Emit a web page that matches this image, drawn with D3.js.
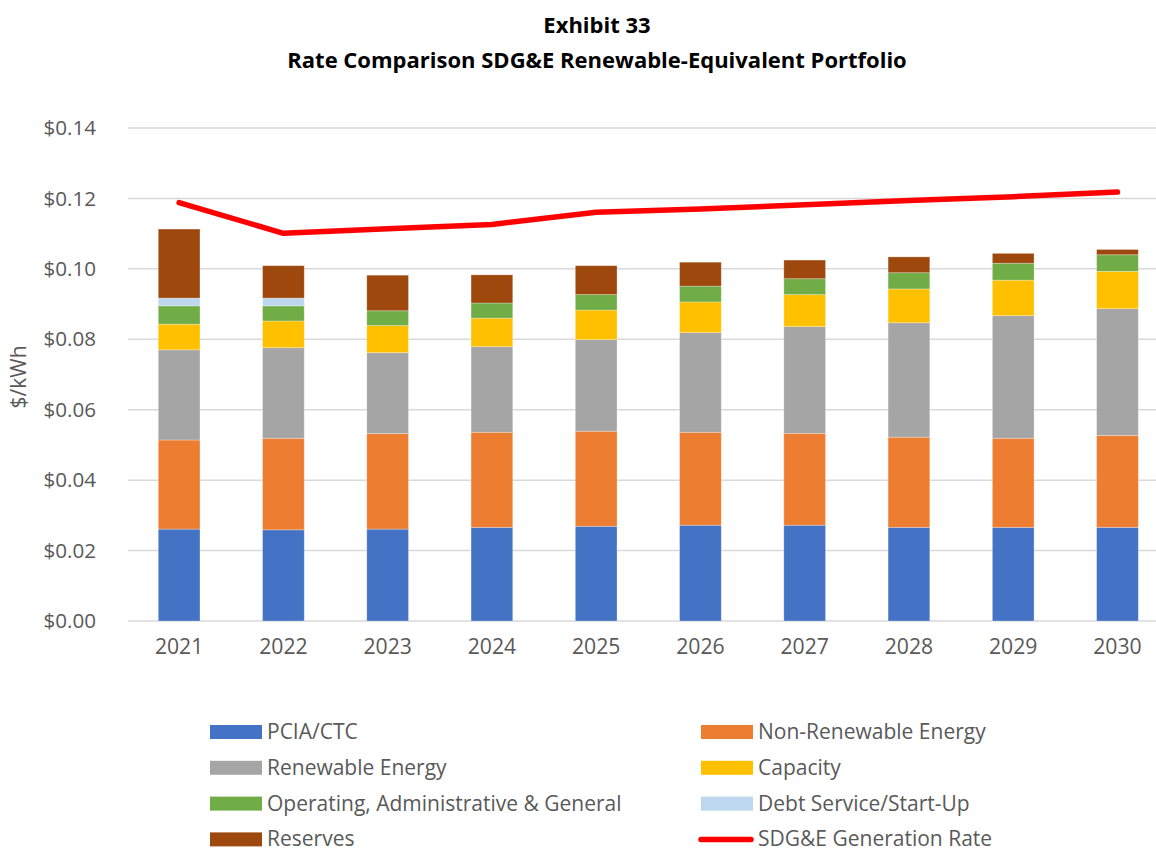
<!DOCTYPE html>
<html>
<head>
<meta charset="utf-8">
<script src="https://cdn.jsdelivr.net/npm/d3@7"></script>
<style>
  body { margin: 0; background: #fff; }
  svg { display: block; font-family: "Open Sans", sans-serif; }
</style>
</head>
<body>
<div class="chart"></div>
<script>
const years = ["2021", "2022", "2023", "2024", "2025", "2026", "2027", "2028", "2029", "2030"];
const seriesNames = [
  "PCIA/CTC",
  "Non-Renewable Energy",
  "Renewable Energy",
  "Capacity",
  "Operating, Administrative & General",
  "Debt Service/Start-Up",
  "Reserves",
];
const pcia     = [0.0261, 0.0259, 0.0261, 0.0266, 0.0269, 0.0272, 0.0272, 0.0266, 0.0266, 0.0266];
const nonRen   = [0.0253, 0.0260, 0.0271, 0.0270, 0.0270, 0.0264, 0.0261, 0.0256, 0.0253, 0.0261];
const ren      = [0.0256, 0.0257, 0.0230, 0.0243, 0.0260, 0.0283, 0.0303, 0.0325, 0.0348, 0.0360];
const capacity = [0.0073, 0.0076, 0.0077, 0.0081, 0.0084, 0.0087, 0.0091, 0.0096, 0.0101, 0.0106];
const oag      = [0.0052, 0.0043, 0.0042, 0.0043, 0.0044, 0.0045, 0.0045, 0.0046, 0.0048, 0.0047];
const debt     = [0.0022, 0.0022, 0, 0, 0, 0, 0, 0, 0, 0];
const reserves = [0.0196, 0.0092, 0.0101, 0.0080, 0.0082, 0.0068, 0.0053, 0.0045, 0.0028, 0.0015];
const sdgeRate = [0.1188, 0.1101, 0.1114, 0.1126, 0.1161, 0.1170, 0.1182, 0.1194, 0.1205, 0.1218];
const yTicks = [0, 0.02, 0.04, 0.06, 0.08, 0.10, 0.12, 0.14];
const lineName = "SDG&E Generation Rate";

const colors = ["#4472C4", "#ED7D31", "#A5A5A5", "#FFC000", "#70AD47", "#BDD7EE", "#9E480E"];
const seriesValues = [pcia, nonRen, ren, capacity, oag, debt, reserves];

const width = 1156, height = 853;
const margin = { top: 128, left: 127, bottom: 232 };
const plotW = 1042.6;

const svg = d3.select(".chart").append("svg")
  .attr("width", width)
  .attr("height", height);

// table for the stack
const table = years.map((y, i) => {
  const row = { year: y };
  seriesNames.forEach((s, k) => { row[s] = seriesValues[k][i]; });
  return row;
});
const stacked = d3.stack().keys(seriesNames)(table);

const x = d3.scaleBand().domain(years)
  .range([margin.left, margin.left + plotW])
  .paddingInner(0.6).paddingOuter(0.3);
const y = d3.scaleLinear().domain([0, 0.14]).range([height - margin.bottom, margin.top]);

// gridlines
svg.append("g")
  .selectAll("line")
  .data(yTicks)
  .join("line")
  .attr("x1", margin.left + 1)
  .attr("x2", margin.left + plotW)
  .attr("y1", d => y(d))
  .attr("y2", d => y(d))
  .attr("stroke", "#D9D9D9")
  .attr("stroke-width", 1.5);

// y axis labels
const yAxis = svg.append("g")
  .attr("transform", `translate(${margin.left - 28},0)`)
  .call(d3.axisLeft(y).tickValues(yTicks).tickSize(0).tickFormat(d => "$" + d.toFixed(2)));
yAxis.select(".domain").remove();
yAxis.selectAll("text")
  .attr("fill", "#595959")
  .style("font-size", "20.6px")
  .style("font-family", "Open Sans");

// x axis labels
const xAxis = svg.append("g")
  .attr("transform", `translate(0,${height - margin.bottom})`)
  .call(d3.axisBottom(x).tickSize(0));
xAxis.select(".domain").remove();
xAxis.selectAll("text")
  .attr("dy", "1.05em")
  .attr("y", 11)
  .attr("fill", "#595959")
  .style("font-size", "21.2px")
  .style("font-family", "Open Sans");

// bars
svg.append("g")
  .selectAll("g")
  .data(stacked)
  .join("g")
  .attr("fill", (d, i) => colors[i])
  .selectAll("rect")
  .data(d => d)
  .join("rect")
  .attr("x", d => x(d.data.year))
  .attr("width", x.bandwidth())
  .attr("y", d => y(d[1]))
  .attr("height", d => y(d[0]) - y(d[1]))
  .attr("stroke", "#ffffff")
  .attr("stroke-opacity", 0.35)
  .attr("stroke-width", 0.8);

// line
const line = d3.line()
  .x((d, i) => x(years[i]) + x.bandwidth() / 2)
  .y(d => y(d));
svg.append("path")
  .datum(sdgeRate)
  .attr("d", line)
  .attr("fill", "none")
  .attr("stroke", "#FF0000")
  .attr("stroke-width", 5.5)
  .attr("stroke-linecap", "round")
  .attr("stroke-linejoin", "round");

// y axis title
svg.append("text")
  .attr("transform", "translate(26,377) rotate(-90)")
  .attr("text-anchor", "middle")
  .attr("fill", "#595959")
  .style("font-size", "21px")
  .text("$/kWh");

// title
const title = svg.append("text")
  .attr("text-anchor", "middle")
  .attr("font-weight", "bold")
  .attr("fill", "#000")
  .style("font-size", "22px");
title.append("tspan").attr("x", 597).attr("y", 33).text("Exhibit 33");
title.append("tspan").attr("x", 597).attr("y", 68).text("Rate Comparison SDG&E Renewable-Equivalent Portfolio");

// legend
const legendItems = seriesNames.map((s, i) => ({ name: s, color: colors[i], type: "rect" }))
  .concat([{ name: lineName, color: "#FF0000", type: "line" }]);
const legend = svg.append("g");
const item = legend.selectAll("g")
  .data(legendItems)
  .join("g")
  .attr("transform", (d, i) => `translate(${i % 2 === 0 ? 210 : 701},${732 + Math.floor(i / 2) * 35.8})`);
item.filter(d => d.type === "rect").append("rect")
  .attr("x", 0).attr("y", -7)
  .attr("width", 52).attr("height", 14)
  .attr("fill", d => d.color);
item.filter(d => d.type === "line").append("line")
  .attr("x1", 0).attr("x2", 50).attr("y1", 0).attr("y2", 0)
  .attr("stroke", d => d.color)
  .attr("stroke-width", 5.5)
  .attr("stroke-linecap", "round");
item.append("text")
  .attr("x", 57)
  .attr("dy", "0.33em")
  .attr("fill", "#595959")
  .style("font-size", "21px")
  .text(d => d.name);
</script>
</body>
</html>
